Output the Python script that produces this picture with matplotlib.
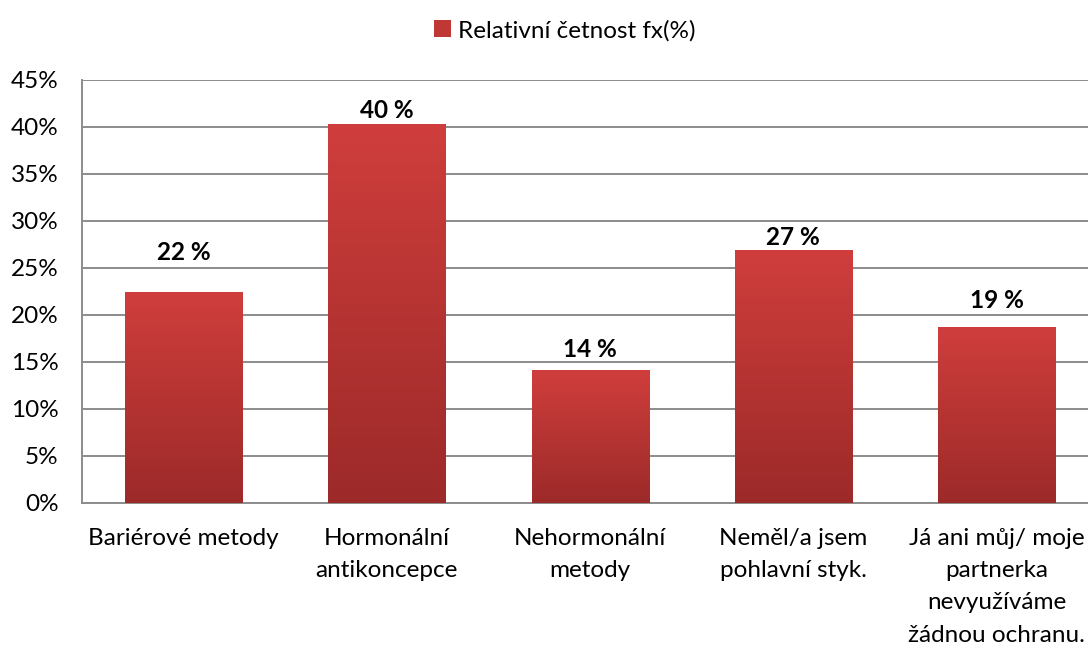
import numpy as np
import matplotlib.pyplot as plt
from matplotlib.patches import Patch
from matplotlib.colors import LinearSegmentedColormap

categories = ['Bariérové metody', 'Hormonální\nantikoncepce', 'Nehormonální\nmetody',
              'Neměl/a jsem\npohlavní styk.', 'Já ani můj/ moje\npartnerka\nnevyužíváme\nžádnou ochranu.']
values = [22.4, 40.3, 14.1, 26.9, 18.7]
legend_label = 'Relativní četnost fx(%)'

# label gaps above bar tops (points), placed by hand in the original
label_gap = [29, 10, 15, 9, 19]

plt.rcParams['font.family'] = ['Lato', 'DejaVu Sans']

fig = plt.figure(figsize=(10.88, 6.46), dpi=100)
ax = fig.add_axes([0.0754, 0.2214, 0.934, 0.6548])

x = np.arange(len(categories))
bars = ax.bar(x, values, width=0.576, color='#B83433', zorder=2)

# vertical gradient inside each bar
grad = np.linspace(0, 1, 256).reshape(-1, 1)
cmap = LinearSegmentedColormap.from_list('redgrad', ['#9C2A29', '#CF3E3C'])
for b in bars:
    x0, w, h = b.get_x(), b.get_width(), b.get_height()
    im = ax.imshow(grad, extent=(x0, x0 + w, 0, h), origin='lower', cmap=cmap,
                   aspect='auto', zorder=3)
    im.set_clip_path(b)

for xi, v, g in zip(x, values, label_gap):
    ax.annotate(f'{round(v)} %', (xi, v), xytext=(0, g), textcoords='offset points',
                ha='center', va='center', fontsize=17.5, fontweight='bold',
                color='black', zorder=4)

ax.set_xlim(-0.5, len(categories) - 0.5)
ax.set_ylim(0, 45)
ax.set_yticks(np.arange(0, 46, 5))
ax.set_yticklabels([f'{t}%' for t in range(0, 46, 5)])
ax.set_xticks(x)
ax.set_xticklabels(categories, linespacing=1.66)
ax.tick_params(axis='both', length=0, labelsize=17.5, colors='black')
ax.tick_params(axis='x', pad=18)
ax.tick_params(axis='y', pad=17)
ax.yaxis.grid(True, color='#8C8C8C', linewidth=1.4, zorder=0)
ax.set_axisbelow(True)
for s in ['top', 'right']:
    ax.spines[s].set_visible(False)
for s in ['left', 'bottom']:
    ax.spines[s].set_color('#8C8C8C')
    ax.spines[s].set_linewidth(1.4)

handle = Patch(facecolor='#C03836', edgecolor='none')
fig.legend([handle], [legend_label], loc='center', bbox_to_anchor=(0.519, 0.953),
           frameon=False, fontsize=17.5, handlelength=0.7, handleheight=0.7,
           handletextpad=0.3)

fig.savefig('out.png', dpi=100)
